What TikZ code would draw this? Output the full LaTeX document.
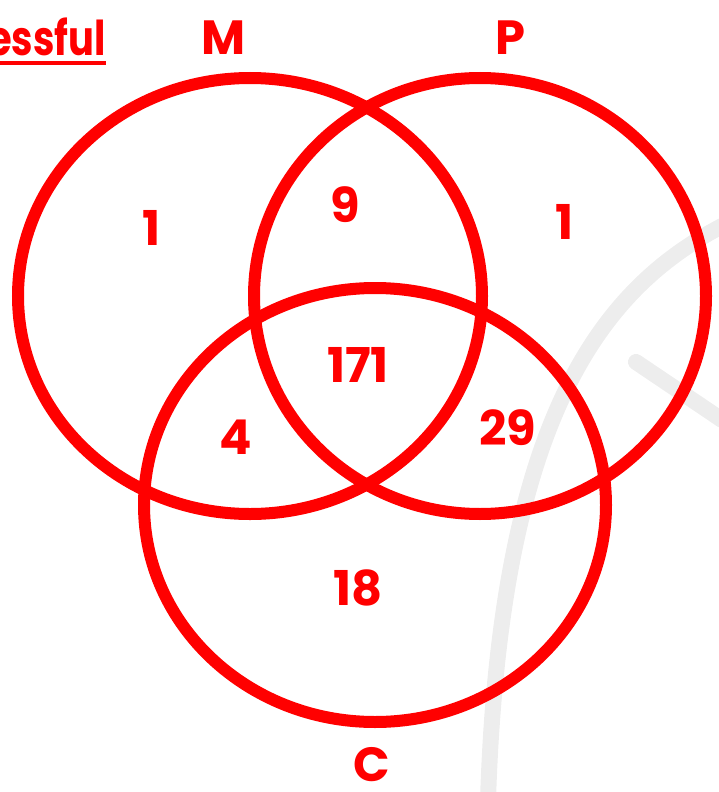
\documentclass[tikz,border=0pt]{standalone}
\usepackage{fontspec}
\setmainfont{Poppins}
\newfontfamily\titlefont[FakeStretch=0.8]{Poppins}
\usepackage{xcolor}
\definecolor{vennRed}  {HTML}{FF0000}
\definecolor{markGrey} {HTML}{EDEDED}
\usetikzlibrary{positioning, calc}

\begin{document}
\begin{tikzpicture}[
    x=0.5pt, y=-0.5pt,
    every node/.style={font=\fontsize{24}{28}\selectfont\bfseries, text=vennRed, inner sep=0pt},
    setring/.style={draw=vennRed, line width=6pt},
    watermark/.style={draw=markGrey, line width=8pt, line cap=round},
    setname/.style={anchor=center},
    count/.style={anchor=center}
]
\useasboundingbox (0,0) rectangle (718,792);
% faint background marks
\draw[watermark] (722,226) .. controls (600,290) and (500,420) .. (488,800);
\draw[watermark] (636,362) .. controls (670,385) and (700,405) .. (722,420);
% Sets
\draw[setring] (250,296) ellipse [x radius=232, y radius=218];
\draw[setring] (480,296) ellipse [x radius=226, y radius=218];
\draw[setring] (375,505) ellipse [x radius=231, y radius=217];
% Title, cut at the edge
\node[anchor=base east, font=\fontsize{24}{28}\titlefont\bfseries] (title) at (106,56) {essful};
\draw[vennRed, line width=1.6pt] (title.base west |- 0,63) -- (title.base east |- 0,63);
% Set names
\node[setname] (nameM) at (224,38) {M};
\node[setname] (nameP) at (510,38) {P};
\node[setname] (nameC) at (372,765) {C};
% Region counts
\node[count] (onlyM)  at (152,228) {1};
\node[count] (mp)     at (345,205) {9};
\node[count] (onlyP)  at (565,222) {1};
\node[count] (mpc)    at (358,365) {171};
\node[count] (mc)     at (236,437) {4};
\node[count] (pc)     at (508,428) {29};
\node[count] (onlyC)  at (358,588) {18};
\end{tikzpicture}
\end{document}
